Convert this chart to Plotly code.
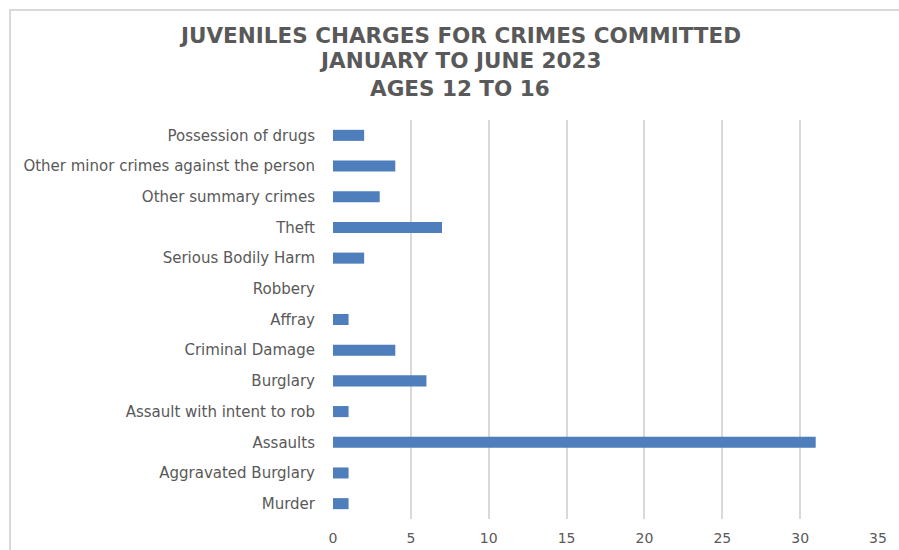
import plotly.graph_objects as go

# Charges by offence, listed bottom-to-top as drawn on the category axis
categories = [
    "Murder",
    "Aggravated Burglary",
    "Assaults",
    "Assault with intent to rob",
    "Burglary",
    "Criminal Damage",
    "Affray",
    "Robbery",
    "Serious Bodily Harm",
    "Theft",
    "Other summary crimes",
    "Other minor crimes against the person",
    "Possession of drugs",
]
charges = [1, 1, 31, 1, 6, 4, 1, 0, 2, 7, 3, 4, 2]

x_ticks = [0, 5, 10, 15, 20, 25, 30, 35]

title_lines = [
    "JUVENILES CHARGES FOR CRIMES COMMITTED",
    "JANUARY TO JUNE 2023",
    "AGES 12 TO 16",
]
title_centers_px = [35, 61, 88]

W, H = 899, 550
L, R, T, B = 333, 21, 120, 31
plot_w = W - L - R
plot_h = H - T - B

label_color = "#595959"
grid_color = "#D9D9D9"
font_family = "DejaVu Sans, Open Sans, sans-serif"

fig = go.Figure(
    go.Bar(
        x=charges,
        y=categories,
        orientation="h",
        marker=dict(color="#4E7EBB", line=dict(width=0)),
        width=0.36,
        hoverinfo="x+y",
    )
)

# Chart-area border (left and top edges visible, rest runs off the canvas)
fig.add_shape(
    type="rect",
    xref="paper", yref="paper",
    x0=(10 - L) / plot_w, x1=(W + 20 - L) / plot_w,
    y0=-(B + 20) / plot_h, y1=(H - B - 10) / plot_h,
    line=dict(color=grid_color, width=2),
    fillcolor="rgba(0,0,0,0)",
    layer="below",
)

# Three-line chart title, one annotation per line
for text, cy in zip(title_lines, title_centers_px):
    fig.add_annotation(
        text=f"<b>{text}</b>",
        xref="paper", yref="paper",
        x=(460 - L) / plot_w, y=(H - B - cy) / plot_h,
        xanchor="center", yanchor="middle",
        showarrow=False,
        font=dict(size=21.5, color=label_color, family=font_family),
    )

fig.update_layout(
    width=W, height=H,
    margin=dict(l=L, r=R, t=T, b=B),
    paper_bgcolor="white",
    plot_bgcolor="white",
    showlegend=False,
    font=dict(family=font_family, color=label_color),
    xaxis=dict(
        range=[0, 35],
        tickvals=x_ticks,
        showgrid=True,
        gridcolor=grid_color,
        gridwidth=1.5,
        zeroline=False,
        showline=False,
        ticks="",
        ticklabelstandoff=9,
        tickfont=dict(size=14, color=label_color),
        automargin=False,
        fixedrange=True,
    ),
    yaxis=dict(
        categoryorder="array",
        categoryarray=categories,
        showgrid=False,
        zeroline=False,
        showline=False,
        ticks="",
        ticklabelstandoff=17,
        tickfont=dict(size=15, color=label_color),
        range=[-0.5, len(categories) - 0.5],
        automargin=False,
        fixedrange=True,
    ),
)

fig.write_html("out.html")
